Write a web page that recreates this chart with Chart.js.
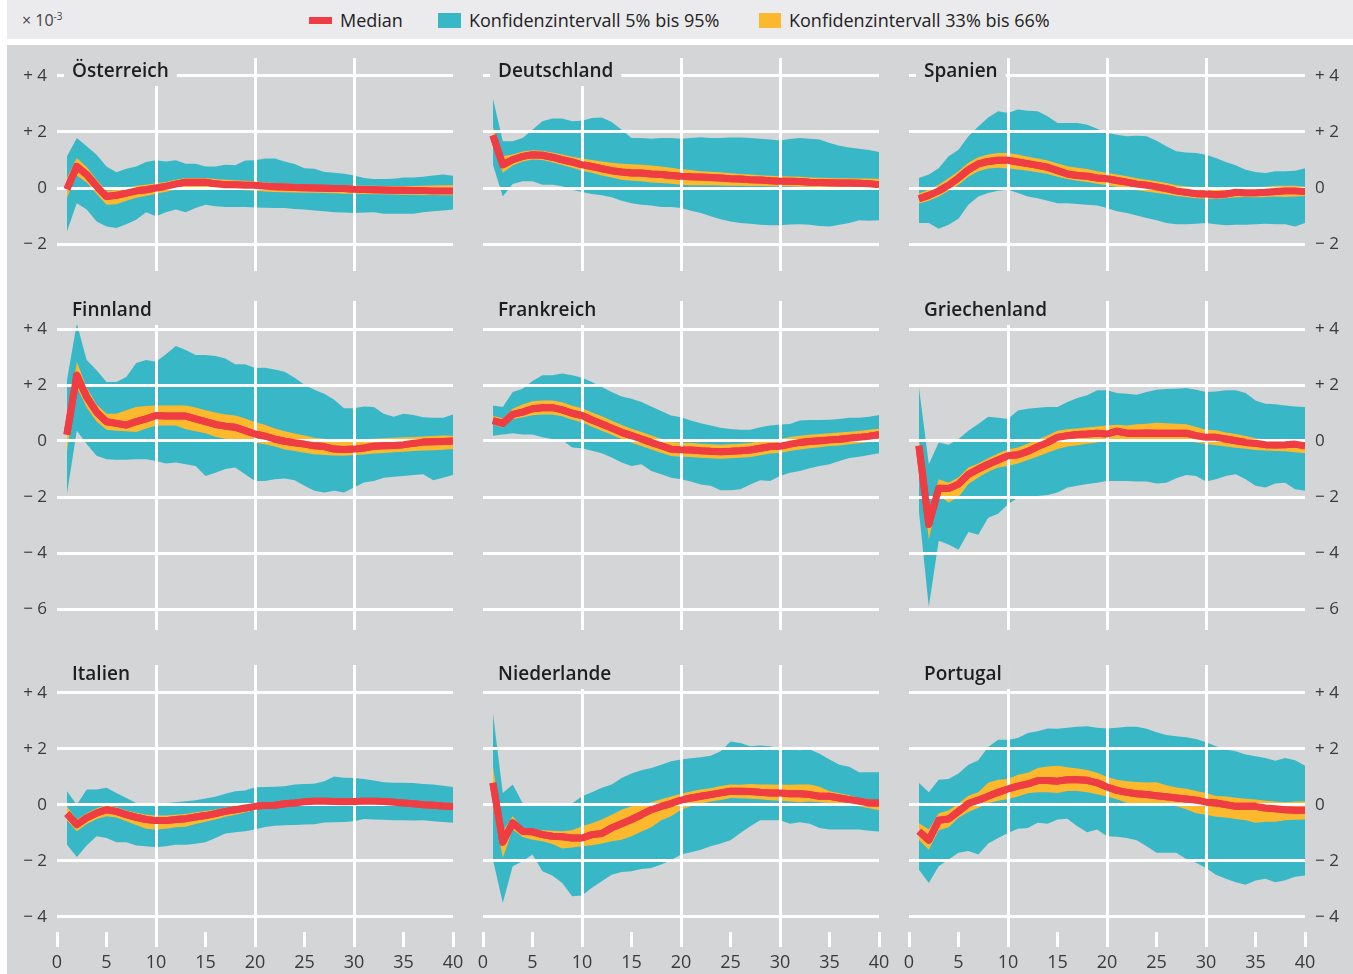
<!DOCTYPE html>
<html lang="de">
<head>
<meta charset="utf-8">
<title>Impulsantworten</title>
<script src="https://cdn.jsdelivr.net/npm/chart.js@4.4.1/dist/chart.umd.min.js"></script>
<style>
  body { margin: 0; width: 1353px; height: 974px; background: #fff; position: relative; overflow: hidden; font-family: 'Open Sans', 'Noto Sans', sans-serif; }
  #legend { position: absolute; left: 7px; top: 0; width: 1346px; height: 39px; background: #EBEBED; color: #222; font-size: 18px; }
  #legend .unit { position: absolute; left: 15px; top: 9px; font-size: 16px; color: #444; }
  #legend .unit sup { font-size: 10px; }
  #legend .sw { position: absolute; }
  #legend .txt { position: absolute; top: 8px; white-space: nowrap; }
  #panels { position: absolute; left: 7px; top: 45px; width: 1346px; height: 929px; background: #D4D5D7; }
  canvas.panel { position: absolute; }
</style>
</head>
<body>
<div id="legend">
  <span class="unit">× 10<sup>-3</sup></span>
  <span class="sw" style="left:302px;top:17px;width:23px;height:7px;background:#EE3D43"></span>
  <span class="txt" style="left:333px">Median</span>
  <span class="sw" style="left:431px;top:13px;width:23px;height:15px;background:#38B8C6"></span>
  <span class="txt" style="left:462px">Konfidenzintervall 5% bis 95%</span>
  <span class="sw" style="left:752px;top:13px;width:22px;height:15px;background:#FDB92E"></span>
  <span class="txt" style="left:782px">Konfidenzintervall 33% bis 66%</span>
</div>
<div id="panels"></div>
<script>
// Quartale nach dem Schock
const horizon = [1,2,3,4,5,6,7,8,9,10,11,12,13,14,15,16,17,18,19,20,21,22,23,24,25,26,27,28,29,30,31,32,33,34,35,36,37,38,39,40];
const xTicks = [0,5,10,15,20,25,30,35,40];
const yTicksTop = [-2,0,2,4];
const yTicksMid = [-6,-4,-2,0,2,4];
const yTicksBottom = [-4,-2,0,2,4];

// Österreich
const atMedian = [-0.05,0.77,0.48,0.06,-0.3,-0.26,-0.18,-0.1,-0.06,0,0.06,0.14,0.21,0.21,0.21,0.15,0.12,0.12,0.1,0.1,0.06,0.05,0.04,0.02,0.01,0,-0.01,-0.02,-0.02,-0.04,-0.05,-0.06,-0.07,-0.08,-0.08,-0.09,-0.09,-0.1,-0.1,-0.1];
const atP95 = [1.13,1.79,1.49,1.19,0.77,0.56,0.69,0.77,0.93,0.99,0.95,0.99,0.87,0.87,0.77,0.77,0.83,0.81,0.98,0.99,1.05,1.05,0.95,0.86,0.71,0.69,0.57,0.55,0.51,0.45,0.36,0.32,0.32,0.33,0.38,0.38,0.4,0.45,0.48,0.44];
const atP5 = [-1.55,-0.54,-0.77,-1.19,-1.37,-1.43,-1.29,-1.13,-0.86,-1.01,-0.86,-0.77,-0.86,-0.71,-0.6,-0.65,-0.68,-0.68,-0.68,-0.69,-0.7,-0.71,-0.71,-0.75,-0.77,-0.8,-0.83,-0.86,-0.87,-0.89,-0.87,-0.86,-0.92,-0.92,-0.92,-0.92,-0.86,-0.83,-0.8,-0.77];
const atP66 = [0.35,1.07,0.75,0.3,-0.1,-0.08,0.0,0.08,0.12,0.17,0.22,0.3,0.36,0.36,0.36,0.32,0.3,0.28,0.26,0.24,0.2,0.18,0.16,0.14,0.12,0.11,0.1,0.1,0.1,0.09,0.08,0.08,0.07,0.07,0.07,0.07,0.08,0.09,0.1,0.1];
const atP33 = [-0.35,0.45,0.2,-0.2,-0.6,-0.58,-0.45,-0.35,-0.28,-0.2,-0.13,-0.05,0.02,0.03,0.03,-0.01,-0.04,-0.06,-0.08,-0.1,-0.12,-0.14,-0.15,-0.16,-0.17,-0.17,-0.18,-0.19,-0.2,-0.2,-0.21,-0.22,-0.22,-0.23,-0.24,-0.24,-0.25,-0.25,-0.26,-0.26];

// Deutschland
const deMedian = [1.88,0.83,1.01,1.13,1.19,1.17,1.1,1.01,0.93,0.83,0.77,0.69,0.62,0.57,0.54,0.54,0.5,0.48,0.45,0.42,0.4,0.39,0.38,0.36,0.33,0.32,0.3,0.29,0.26,0.24,0.24,0.23,0.21,0.2,0.19,0.18,0.18,0.17,0.15,0.12];
const deP95 = [3.2,1.67,1.67,1.79,2.08,2.38,2.48,2.48,2.38,2.4,2.5,2.52,2.36,2.08,1.79,1.79,1.76,1.79,1.79,1.76,1.79,1.81,1.79,1.79,1.8,1.8,1.79,1.76,1.73,1.7,1.75,1.79,1.76,1.73,1.61,1.51,1.45,1.4,1.36,1.29];
const deP5 = [0.83,-0.3,0.14,0.24,0.24,0.12,0.12,0.06,-0.06,-0.14,-0.21,-0.26,-0.33,-0.45,-0.54,-0.6,-0.62,-0.68,-0.68,-0.71,-0.81,-0.89,-1.01,-1.11,-1.19,-1.25,-1.27,-1.31,-1.33,-1.33,-1.3,-1.29,-1.31,-1.35,-1.37,-1.31,-1.25,-1.15,-1.17,-1.15];
const deP66 = [2.2,1.13,1.2,1.3,1.35,1.33,1.27,1.2,1.12,1.05,1.0,0.95,0.9,0.87,0.85,0.83,0.8,0.77,0.72,0.67,0.64,0.6,0.58,0.56,0.53,0.5,0.48,0.46,0.44,0.42,0.41,0.4,0.38,0.37,0.36,0.35,0.35,0.34,0.34,0.33];
const deP33 = [1.6,0.55,0.8,0.95,1.02,1.0,0.92,0.82,0.72,0.62,0.55,0.45,0.38,0.3,0.26,0.24,0.2,0.18,0.15,0.12,0.1,0.1,0.1,0.09,0.08,0.08,0.07,0.07,0.06,0.06,0.06,0.05,0.05,0.04,0.04,0.03,0.03,0.03,0.02,0.02];

// Spanien
const esMedian = [-0.38,-0.26,-0.1,0.1,0.36,0.65,0.86,0.95,0.99,0.99,0.93,0.87,0.81,0.74,0.62,0.5,0.45,0.42,0.36,0.33,0.27,0.21,0.14,0.1,0.04,-0.02,-0.1,-0.15,-0.2,-0.21,-0.24,-0.21,-0.15,-0.17,-0.17,-0.15,-0.12,-0.1,-0.1,-0.12];
const esP95 = [0.36,0.48,0.71,1.13,1.37,1.85,2.2,2.52,2.74,2.68,2.8,2.76,2.74,2.56,2.32,2.32,2.32,2.26,2.12,1.96,1.9,1.85,1.87,1.85,1.69,1.49,1.31,1.27,1.25,1.19,1.07,0.93,0.81,0.65,0.57,0.54,0.6,0.6,0.62,0.71];
const esP5 = [-1.25,-1.25,-1.45,-1.31,-1.1,-0.6,-0.3,-0.18,-0.1,-0.06,-0.18,-0.3,-0.36,-0.45,-0.54,-0.54,-0.57,-0.6,-0.62,-0.71,-0.83,-0.89,-0.98,-1.07,-1.15,-1.25,-1.29,-1.29,-1.27,-1.25,-1.29,-1.33,-1.31,-1.31,-1.29,-1.27,-1.29,-1.29,-1.37,-1.25];
const esP66 = [-0.2,-0.05,0.12,0.35,0.6,0.9,1.1,1.2,1.25,1.25,1.2,1.12,1.05,0.98,0.88,0.78,0.72,0.68,0.6,0.55,0.48,0.42,0.35,0.3,0.24,0.18,0.1,0.06,0.02,0.0,-0.02,0.0,0.02,0.02,0.03,0.05,0.08,0.08,0.08,0.05];
const esP33 = [-0.55,-0.45,-0.3,-0.1,0.12,0.4,0.6,0.7,0.72,0.7,0.66,0.62,0.56,0.5,0.4,0.32,0.26,0.22,0.15,0.1,0.05,-0.02,-0.08,-0.12,-0.18,-0.22,-0.28,-0.32,-0.36,-0.38,-0.38,-0.36,-0.33,-0.32,-0.33,-0.32,-0.3,-0.32,-0.3,-0.28];

// Finnland
const fiMedian = [0.23,2.35,1.57,1.03,0.69,0.63,0.57,0.69,0.79,0.91,0.89,0.89,0.89,0.79,0.69,0.59,0.53,0.49,0.37,0.25,0.17,0.07,-0.01,-0.06,-0.11,-0.17,-0.2,-0.29,-0.3,-0.29,-0.25,-0.19,-0.17,-0.16,-0.13,-0.08,-0.04,-0.03,-0.02,0];
const fiP95 = [2.17,4.2,2.89,2.53,2.11,2.11,2.29,2.79,2.89,2.83,3.1,3.39,3.25,3.07,3.07,3.04,2.95,2.74,2.74,2.61,2.62,2.55,2.47,2.26,2.01,1.83,1.69,1.47,1.17,1.17,1.23,1.21,0.97,0.87,0.97,0.93,0.85,0.83,0.83,0.95];
const fiP5 = [-1.9,0.37,-0.11,-0.53,-0.65,-0.67,-0.67,-0.65,-0.65,-0.71,-0.8,-0.77,-0.83,-0.89,-1.25,-1.13,-1.0,-0.95,-1.19,-1.43,-1.43,-1.37,-1.34,-1.4,-1.6,-1.78,-1.84,-1.78,-1.84,-1.66,-1.48,-1.43,-1.31,-1.28,-1.25,-1.21,-1.19,-1.4,-1.31,-1.21];
const fiP66 = [0.3,2.83,1.9,1.3,0.97,0.97,1.1,1.21,1.25,1.27,1.27,1.27,1.27,1.2,1.1,1.02,0.95,0.91,0.8,0.67,0.58,0.45,0.35,0.27,0.2,0.12,0.08,0.04,0.02,0.04,0.06,0.08,0.1,0.12,0.13,0.14,0.16,0.18,0.2,0.19];
const fiP33 = [-0.4,1.93,1.2,0.7,0.4,0.37,0.35,0.32,0.45,0.55,0.55,0.55,0.42,0.35,0.28,0.15,0.08,0.05,0.0,-0.05,-0.12,-0.2,-0.3,-0.36,-0.42,-0.47,-0.5,-0.52,-0.53,-0.5,-0.48,-0.45,-0.43,-0.4,-0.38,-0.36,-0.34,-0.33,-0.31,-0.29];

// Frankreich
const frMedian = [0.73,0.63,0.95,1.03,1.15,1.19,1.19,1.11,0.99,0.91,0.75,0.61,0.46,0.31,0.19,0.07,-0.05,-0.17,-0.29,-0.31,-0.32,-0.35,-0.37,-0.38,-0.37,-0.35,-0.32,-0.26,-0.2,-0.19,-0.11,-0.05,-0.02,0.01,0.04,0.06,0.1,0.13,0.17,0.22];
const frP95 = [1.27,1.21,1.75,1.87,2.14,2.35,2.35,2.41,2.35,2.26,2.11,1.93,1.75,1.59,1.51,1.39,1.23,1.07,0.91,0.85,0.73,0.63,0.55,0.47,0.43,0.4,0.4,0.49,0.55,0.59,0.61,0.73,0.75,0.75,0.76,0.79,0.83,0.83,0.87,0.93];
const frP5 = [0.19,0.23,0.28,0.23,0.23,0.13,0.07,0.04,-0.23,-0.26,-0.35,-0.44,-0.59,-0.77,-0.89,-0.83,-1.07,-1.19,-1.31,-1.37,-1.45,-1.55,-1.6,-1.76,-1.76,-1.72,-1.55,-1.4,-1.43,-1.25,-1.13,-1.07,-0.97,-0.89,-0.83,-0.71,-0.61,-0.56,-0.5,-0.44];
const frP66 = [0.9,0.8,1.15,1.3,1.42,1.45,1.45,1.38,1.26,1.17,1.02,0.88,0.72,0.57,0.44,0.32,0.2,0.08,-0.04,-0.06,-0.07,-0.1,-0.12,-0.13,-0.12,-0.1,-0.07,-0.01,0.05,0.07,0.14,0.19,0.22,0.25,0.28,0.3,0.33,0.36,0.4,0.44];
const frP33 = [0.58,0.48,0.78,0.85,0.92,0.95,0.95,0.88,0.76,0.67,0.51,0.37,0.22,0.07,-0.06,-0.18,-0.3,-0.42,-0.54,-0.56,-0.57,-0.6,-0.62,-0.63,-0.62,-0.6,-0.57,-0.51,-0.45,-0.43,-0.36,-0.3,-0.26,-0.22,-0.18,-0.16,-0.12,-0.08,-0.04,0.0];

// Griechenland
const grMedian = [-0.17,-2.98,-1.69,-1.7,-1.54,-1.19,-1.0,-0.83,-0.68,-0.53,-0.49,-0.37,-0.2,-0.05,0.13,0.19,0.23,0.25,0.28,0.25,0.35,0.28,0.28,0.29,0.28,0.28,0.28,0.28,0.19,0.13,0.13,0.07,0.01,-0.05,-0.08,-0.13,-0.14,-0.13,-0.11,-0.17];
const grP95 = [1.93,-0.83,-0.05,-0.13,0.07,0.37,0.61,0.87,0.83,0.79,1.09,1.15,1.19,1.21,1.21,1.39,1.54,1.63,1.81,1.81,1.71,1.69,1.65,1.75,1.83,1.86,1.87,1.89,1.83,1.75,1.77,1.81,1.81,1.71,1.45,1.33,1.31,1.27,1.23,1.21];
const grP5 = [-2.5,-5.92,-3.56,-3.7,-3.88,-3.25,-3.35,-2.74,-2.6,-2.26,-2.02,-1.96,-1.96,-1.93,-1.84,-1.66,-1.6,-1.54,-1.49,-1.43,-1.43,-1.43,-1.45,-1.45,-1.52,-1.49,-1.33,-1.21,-1.25,-1.45,-1.37,-1.25,-1.19,-1.37,-1.6,-1.66,-1.52,-1.49,-1.72,-1.78];
const grP66 = [0.1,-2.68,-1.37,-1.49,-1.3,-0.95,-0.8,-0.62,-0.45,-0.3,-0.23,-0.1,0.05,0.2,0.37,0.42,0.45,0.48,0.52,0.55,0.58,0.55,0.6,0.62,0.65,0.63,0.62,0.6,0.5,0.4,0.38,0.3,0.25,0.18,0.1,0.05,0.02,-0.02,-0.05,-0.08];
const grP33 = [-0.45,-3.52,-1.95,-2.2,-2.0,-1.54,-1.3,-1.1,-0.95,-0.89,-0.8,-0.68,-0.55,-0.42,-0.29,-0.2,-0.15,-0.1,-0.05,0.01,0.05,0.0,0.0,0.0,-0.01,-0.01,0.0,0.0,-0.05,-0.11,-0.15,-0.2,-0.24,-0.28,-0.32,-0.34,-0.36,-0.37,-0.4,-0.44];

// Italien
const itMedian = [-0.31,-0.7,-0.46,-0.29,-0.17,-0.23,-0.35,-0.44,-0.52,-0.56,-0.56,-0.52,-0.49,-0.43,-0.38,-0.31,-0.23,-0.17,-0.11,-0.05,-0.02,-0.01,0.04,0.07,0.11,0.13,0.13,0.12,0.11,0.12,0.13,0.13,0.12,0.1,0.07,0.04,0.01,-0.01,-0.04,-0.06];
const itP95 = [0.49,0.01,0.55,0.55,0.61,0.43,0.25,0.07,0.07,0.07,0.07,0.1,0.13,0.17,0.23,0.29,0.4,0.49,0.52,0.63,0.64,0.65,0.67,0.73,0.75,0.76,0.85,1.02,0.97,0.96,0.93,0.87,0.81,0.79,0.79,0.78,0.75,0.73,0.69,0.64];
const itP5 = [-1.42,-1.86,-1.45,-1.12,-1.18,-1.33,-1.33,-1.45,-1.48,-1.51,-1.48,-1.42,-1.42,-1.39,-1.33,-1.18,-1.02,-0.98,-0.94,-0.88,-0.79,-0.74,-0.73,-0.72,-0.7,-0.69,-0.63,-0.62,-0.61,-0.58,-0.5,-0.52,-0.53,-0.55,-0.55,-0.56,-0.55,-0.58,-0.61,-0.64];
const itP66 = [-0.05,-0.52,-0.3,-0.12,-0.02,-0.08,-0.2,-0.28,-0.35,-0.38,-0.38,-0.35,-0.32,-0.26,-0.22,-0.16,-0.1,-0.05,0.0,0.05,0.08,0.1,0.14,0.17,0.2,0.22,0.22,0.22,0.22,0.23,0.23,0.23,0.22,0.2,0.17,0.14,0.11,0.08,0.05,0.02];
const itP33 = [-0.55,-0.94,-0.68,-0.5,-0.4,-0.45,-0.58,-0.72,-0.85,-0.88,-0.85,-0.8,-0.78,-0.68,-0.6,-0.52,-0.42,-0.35,-0.27,-0.17,-0.13,-0.1,-0.06,-0.03,0.0,0.02,0.02,0.0,-0.02,0.0,0.02,0.02,0.0,-0.01,-0.03,-0.06,-0.09,-0.11,-0.14,-0.16];

// Niederlande
const nlMedian = [0.79,-1.33,-0.64,-0.94,-0.96,-1.06,-1.12,-1.14,-1.18,-1.18,-1.06,-1.02,-0.82,-0.67,-0.52,-0.35,-0.17,-0.05,0.05,0.17,0.25,0.31,0.37,0.43,0.49,0.49,0.48,0.45,0.43,0.43,0.4,0.4,0.37,0.31,0.31,0.25,0.19,0.13,0.07,0.07];
const nlP95 = [3.29,0.43,0.73,0.07,0.05,0.05,-0.02,0.01,0.05,0.31,0.45,0.61,0.73,0.96,1.12,1.24,1.32,1.44,1.56,1.62,1.67,1.7,1.76,1.92,2.27,2.21,2.1,2.12,2.1,2.0,1.98,1.95,1.98,1.83,1.62,1.44,1.36,1.17,1.17,1.17];
const nlP5 = [-1.95,-3.5,-2.19,-2.01,-1.77,-2.37,-2.52,-2.79,-3.26,-3.24,-2.96,-2.73,-2.49,-2.4,-2.37,-2.29,-2.25,-2.13,-1.98,-1.77,-1.69,-1.6,-1.48,-1.38,-1.26,-1.0,-0.76,-0.55,-0.55,-0.55,-0.67,-0.62,-0.67,-0.82,-0.88,-0.88,-0.88,-0.88,-0.92,-0.95];
const nlP66 = [1.4,-0.94,-0.4,-0.82,-0.88,-0.9,-0.92,-0.94,-0.9,-0.76,-0.65,-0.52,-0.35,-0.17,-0.05,0.02,0.1,0.2,0.3,0.4,0.48,0.55,0.6,0.68,0.73,0.72,0.75,0.73,0.73,0.72,0.72,0.73,0.73,0.65,0.49,0.42,0.35,0.25,0.2,0.17];
const nlP33 = [-0.05,-1.89,-0.88,-1.15,-1.24,-1.3,-1.4,-1.56,-1.52,-1.48,-1.44,-1.38,-1.3,-1.24,-1.12,-0.95,-0.8,-0.55,-0.4,-0.17,-0.05,0.05,0.12,0.18,0.25,0.24,0.22,0.2,0.17,0.15,0.12,0.1,0.12,0.1,0.07,0.05,0.0,-0.05,-0.12,-0.19];

// Portugal
const ptMedian = [-0.94,-1.26,-0.55,-0.5,-0.23,0.05,0.17,0.31,0.45,0.57,0.67,0.75,0.87,0.87,0.85,0.9,0.9,0.88,0.79,0.64,0.52,0.45,0.4,0.37,0.33,0.29,0.25,0.21,0.17,0.1,0.07,0.01,-0.05,-0.05,-0.05,-0.11,-0.14,-0.17,-0.19,-0.19];
const ptP95 = [0.79,0.45,0.9,0.93,1.12,1.44,1.6,2.07,2.33,2.33,2.39,2.57,2.63,2.73,2.72,2.76,2.79,2.81,2.76,2.73,2.76,2.79,2.79,2.72,2.6,2.5,2.45,2.42,2.36,2.24,2.1,1.98,1.92,1.8,1.74,1.68,1.58,1.68,1.6,1.4];
const ptP5 = [-2.31,-2.79,-2.19,-1.95,-1.71,-1.65,-1.77,-1.38,-1.18,-1.0,-0.85,-0.82,-0.64,-0.67,-0.52,-0.49,-0.76,-0.98,-0.88,-1.12,-1.14,-1.18,-1.26,-1.48,-1.71,-1.71,-1.71,-1.93,-2.07,-2.25,-2.49,-2.64,-2.76,-2.85,-2.7,-2.64,-2.76,-2.69,-2.57,-2.52];
const ptP66 = [-0.65,-0.88,-0.3,-0.2,0.05,0.33,0.45,0.79,0.9,0.93,1.08,1.15,1.32,1.37,1.4,1.35,1.3,1.25,1.15,1.0,0.9,0.85,0.82,0.8,0.81,0.7,0.62,0.58,0.5,0.43,0.32,0.3,0.26,0.22,0.19,0.15,0.12,0.1,0.12,0.13];
const ptP33 = [-1.25,-1.6,-0.9,-0.8,-0.46,-0.25,-0.1,0.07,0.15,0.21,0.3,0.42,0.45,0.45,0.43,0.5,0.5,0.45,0.38,0.3,0.2,0.08,0.02,0.01,0.0,-0.02,-0.05,-0.15,-0.3,-0.35,-0.42,-0.45,-0.5,-0.55,-0.64,-0.6,-0.6,-0.55,-0.53,-0.52];

const COLORS = { median: '#EE3D43', wide: '#38B8C6', narrow: '#FDB92E', bg: '#D4D5D7', grid: '#FFFFFF', text: '#3A3A3A', title: '#1E1E1E' };
const FONT = "'Open Sans', 'Noto Sans', sans-serif";

// row layout: canvas top/height inside #panels, chart padding, y range, ticks
const rows = [
  { top: 0, height: 237, padTop: 13, padBottom: 11, min: -2.96, max: 4.64, ticks: yTicksTop, titleDy: 14 },
  { top: 237, height: 358, padTop: 19, padBottom: 10, min: -6.75, max: 5.0, ticks: yTicksMid, titleDy: 10 },
  { top: 595, height: 334, padTop: 25, padBottom: 0, min: -4.54, max: 5.0, ticks: yTicksBottom, titleDy: 10 }
];
// column layout: canvas left/width inside #panels
const cols = [
  { left: 1, width: 462, padLeft: 0, padRight: 17, axisWidth: 49, pos: 'left' },
  { left: 463, width: 425, padLeft: 13, padRight: 16, axisWidth: 0, pos: 'left' },
  { left: 888, width: 458, padLeft: 14, padRight: 0, axisWidth: 48, pos: 'right' }
];

const panels = [
  { title: 'Österreich', row: 0, col: 0, med: atMedian, p5: atP5, p95: atP95, p33: atP33, p66: atP66 },
  { title: 'Deutschland', row: 0, col: 1, med: deMedian, p5: deP5, p95: deP95, p33: deP33, p66: deP66 },
  { title: 'Spanien', row: 0, col: 2, med: esMedian, p5: esP5, p95: esP95, p33: esP33, p66: esP66 },
  { title: 'Finnland', row: 1, col: 0, med: fiMedian, p5: fiP5, p95: fiP95, p33: fiP33, p66: fiP66 },
  { title: 'Frankreich', row: 1, col: 1, med: frMedian, p5: frP5, p95: frP95, p33: frP33, p66: frP66 },
  { title: 'Griechenland', row: 1, col: 2, med: grMedian, p5: grP5, p95: grP95, p33: grP33, p66: grP66 },
  { title: 'Italien', row: 2, col: 0, med: itMedian, p5: itP5, p95: itP95, p33: itP33, p66: itP66 },
  { title: 'Niederlande', row: 2, col: 1, med: nlMedian, p5: nlP5, p95: nlP95, p33: nlP33, p66: nlP66 },
  { title: 'Portugal', row: 2, col: 2, med: ptMedian, p5: ptP5, p95: ptP95, p33: ptP33, p66: ptP66 }
];

const toPoints = arr => horizon.map((h, i) => ({ x: h, y: arr[i] }));

function formatY(v) {
  if (v > 0) return '+ ' + v;
  if (v < 0) return '\u2212 ' + Math.abs(v);
  return '0';
}

// grid sits above the bands; median and panel title go back on top of it
const overlayPlugin = {
  id: 'overlay',
  afterDraw(chart, args, opts) {
    const { ctx, chartArea } = chart;
    const meta = chart.getDatasetMeta(0);
    ctx.save();
    ctx.beginPath();
    ctx.rect(chartArea.left, chartArea.top, chartArea.right - chartArea.left, chartArea.bottom - chartArea.top);
    ctx.clip();
    meta.dataset.draw(ctx, chartArea);
    ctx.restore();

    ctx.save();
    ctx.font = '600 19px ' + FONT;
    const tx = chartArea.left + 15;
    const ty = chartArea.top + opts.dy;
    const w = ctx.measureText(opts.text).width;
    const boxTop = Math.max(0, chartArea.top - 20);
    ctx.fillStyle = COLORS.bg;
    ctx.fillRect(tx - 8, boxTop, w + 16, ty + 14 - boxTop);
    ctx.fillStyle = COLORS.title;
    ctx.textBaseline = 'middle';
    ctx.fillText(opts.text, tx, ty);
    ctx.restore();
  }
};

const holder = document.getElementById('panels');

panels.forEach(p => {
  const r = rows[p.row];
  const c = cols[p.col];
  const isBottom = p.row === 2;
  const canvas = document.createElement('canvas');
  canvas.className = 'panel';
  canvas.width = c.width;
  canvas.height = r.height;
  canvas.style.left = c.left + 'px';
  canvas.style.top = r.top + 'px';
  holder.appendChild(canvas);

  new Chart(canvas, {
    type: 'line',
    data: {
      datasets: [
        { label: 'Median', data: toPoints(p.med), borderColor: COLORS.median, borderWidth: 7, borderJoinStyle: 'round', fill: false },
        { label: '66%', data: toPoints(p.p66), borderWidth: 0, backgroundColor: COLORS.narrow, fill: '+1' },
        { label: '33%', data: toPoints(p.p33), borderWidth: 0, fill: false },
        { label: '95%', data: toPoints(p.p95), borderWidth: 0, backgroundColor: COLORS.wide, fill: '+1' },
        { label: '5%', data: toPoints(p.p5), borderWidth: 0, fill: false }
      ]
    },
    options: {
      responsive: false,
      animation: false,
      devicePixelRatio: 1,
      layout: { padding: { top: r.padTop, bottom: r.padBottom, left: c.padLeft, right: c.padRight } },
      elements: { point: { radius: 0 }, line: { tension: 0 } },
      plugins: {
        legend: { display: false },
        tooltip: { enabled: false },
        overlay: { text: p.title, dy: r.titleDy }
      },
      scales: {
        x: {
          type: 'linear', min: 0, max: 40,
          afterBuildTicks: axis => { axis.ticks = xTicks.map(v => ({ value: v })); },
          afterFit: axis => { axis.height = isBottom ? 42 : 0; },
          border: { display: false },
          grid: {
            z: 1,
            lineWidth: 3,
            color: ctx => (ctx.tick && [10, 20, 30].includes(ctx.tick.value)) ? COLORS.grid : 'rgba(0,0,0,0)',
            tickColor: COLORS.grid,
            tickWidth: 3,
            tickLength: 15,
            drawTicks: isBottom
          },
          ticks: { display: isBottom, autoSkip: false, maxRotation: 0, padding: 5, color: COLORS.text, font: { family: FONT, size: 18 } }
        },
        y: {
          type: 'linear', min: r.min, max: r.max, position: c.pos,
          afterBuildTicks: axis => { axis.ticks = r.ticks.map(v => ({ value: v })); },
          afterFit: axis => { axis.width = c.axisWidth; axis.paddingTop = 0; axis.paddingBottom = 0; },
          border: { display: false },
          grid: { z: 1, lineWidth: 3, color: COLORS.grid, drawTicks: false },
          ticks: { display: p.col !== 1, padding: 10, color: COLORS.text, font: { family: FONT, size: 17 }, callback: v => formatY(v) }
        }
      }
    },
    plugins: [overlayPlugin]
  });
});
</script>
</body>
</html>
